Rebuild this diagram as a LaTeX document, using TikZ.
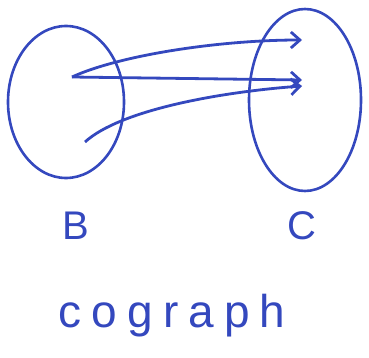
\documentclass[tikz,border=0pt]{standalone}
\usepackage{fontspec}
\setsansfont{Liberation Sans}
\usetikzlibrary{arrows.meta,shapes.geometric}
\definecolor{pen}{RGB}{52,72,190}

\begin{document}
\begin{tikzpicture}[x=1pt,y=-1pt,
  blob/.style={draw=pen, line width=2.6pt, ellipse, inner sep=0pt},
  map/.style={draw=pen, line width=2.8pt, -{Straight Barb[length=9pt,width=16pt]}},
  setname/.style={text=pen, font=\sffamily\fontsize{40}{40}\selectfont},
  caption/.style={text=pen, font=\sffamily\fontsize{46}{46}\selectfont\addfontfeature{LetterSpace=22}}]
\useasboundingbox (0,0) rectangle (369,358);

\node[blob, minimum width=116pt, minimum height=152pt] (B) at (66,102) {};
\node[blob, minimum width=112pt, minimum height=182pt] (C) at (305,100) {};

\coordinate (b1) at (72,77);
\coordinate (b2) at (85,142);
\coordinate (c1) at (302,40);
\coordinate (c2) at (302,80);
\coordinate (c3) at (302,86);

\draw[map] (b1) .. controls (120,55) and (220,40) .. (c1);
\draw[map] (b1) -- (c2);
\draw[map] (b2) .. controls (120,110) and (220,92) .. (c3);

\node[setname] (labB) at (76,226) {B};
\node[setname] (labC) at (302,226) {C};
\node[caption] (cap) at (172,316) {cograph};
\end{tikzpicture}
\end{document}
